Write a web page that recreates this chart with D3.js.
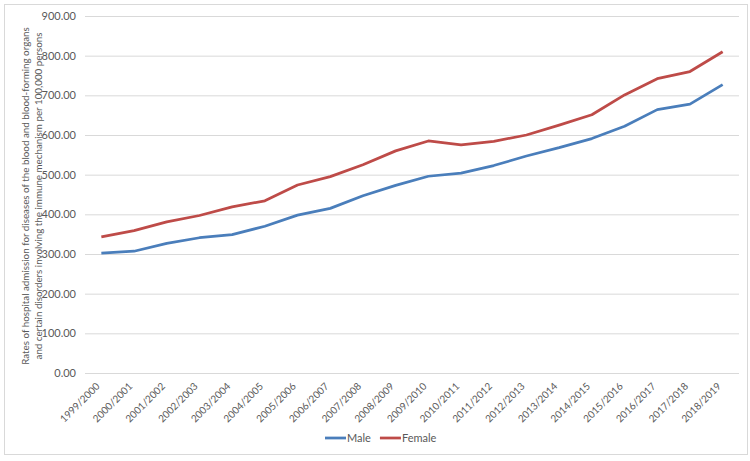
<!DOCTYPE html>
<html>
<head>
<meta charset="utf-8">
<script src="https://cdn.jsdelivr.net/npm/d3@7"></script>
<style>
  body { margin: 0; background: #fff; }
  svg text { font-family: Lato, "Open Sans", sans-serif; fill: #595959; }
</style>
</head>
<body>
<div id="chart"></div>
<script>
var years = ['1999/2000', '2000/2001', '2001/2002', '2002/2003', '2003/2004', '2004/2005',
  '2005/2006', '2006/2007', '2007/2008', '2008/2009', '2009/2010', '2010/2011', '2011/2012',
  '2012/2013', '2013/2014', '2014/2015', '2015/2016', '2016/2017', '2017/2018', '2018/2019'];
var male = [302, 307, 327, 341, 349, 370, 398, 415, 447, 473, 496, 504, 523, 547, 568, 591, 622, 664, 678, 727];
var female = [343, 359, 381, 397, 419, 434, 474, 495, 525, 560, 585, 575, 584, 600, 625, 651, 701, 742, 760, 810];
var yTicks = [0, 100, 200, 300, 400, 500, 600, 700, 800, 900];
var seriesNames = ['Male', 'Female'];
var seriesColors = ['#4a7ebb', '#be4b48'];
var titleLines = [
  'Rates of hospital admission for diseases of the blood and blood-forming organs',
  'and certain disorders involving the immune mechanism  per 100,000 persons'
];

var width = 750, height = 461;
var margin = { top: 16, right: 11, bottom: 88, left: 85 };

var svg = d3.select('#chart').append('svg')
  .attr('width', width)
  .attr('height', height);

// chart frame
svg.append('rect')
  .attr('x', 4.5).attr('y', 4.5)
  .attr('width', 743).attr('height', 450)
  .attr('fill', '#fff')
  .attr('stroke', '#d9d9d9');

var x = d3.scaleBand()
  .domain(years)
  .range([margin.left, width - margin.right]);

var y = d3.scaleLinear()
  .domain([0, 900])
  .range([height - margin.bottom, margin.top]);

// gridlines + y labels
var yAxis = svg.append('g')
  .attr('transform', `translate(${margin.left},0)`)
  .call(d3.axisLeft(y).tickValues(yTicks).tickFormat(d3.format('.2f'))
    .tickSize(-(width - margin.left - margin.right)).tickPadding(9));
yAxis.select('.domain').remove();
yAxis.selectAll('.tick line').attr('stroke', '#d9d9d9');
yAxis.selectAll('.tick text').style('font-size', '11px');

// x labels
var xAxis = svg.append('g')
  .attr('transform', `translate(0,${height - margin.bottom})`)
  .call(d3.axisBottom(x).tickSize(0).tickPadding(0));
xAxis.select('.domain').remove();
xAxis.selectAll('.tick text')
  .style('font-size', '10px')
  .attr('text-anchor', 'end')
  .attr('y', 0)
  .attr('dy', 0)
  .attr('transform', 'translate(-1,14) rotate(-45)');

// y axis title, font sized so the first line spans the same height as the original
var title = svg.append('text')
  .attr('transform', `translate(29,196) rotate(-90)`)
  .attr('text-anchor', 'middle')
  .style('font-size', '10px');
titleLines.forEach(function(s, i) {
  title.append('tspan').attr('x', 0).attr('y', i * 13).text(s);
});
var natural = title.select('tspan').node().getComputedTextLength();
title.style('font-size', (10 * 338 / natural).toFixed(2) + 'px');

var line = d3.line()
  .x(function(d, i) { return x(years[i]) + x.bandwidth() / 2; })
  .y(function(d) { return y(d); });

[male, female].forEach(function(values, i) {
  svg.append('path')
    .datum(values)
    .attr('fill', 'none')
    .attr('stroke', seriesColors[i])
    .attr('stroke-width', 2.75)
    .attr('stroke-linejoin', 'round')
    .attr('d', line);
});

// legend
var legend = svg.append('g').attr('transform', 'translate(325,438)');
var lx = 0;
seriesNames.forEach(function(name, i) {
  legend.append('line')
    .attr('x1', lx).attr('x2', lx + 21)
    .attr('stroke', seriesColors[i])
    .attr('stroke-width', 2.75);
  var t = legend.append('text')
    .attr('x', lx + 22).attr('y', 4)
    .style('font-size', '11px')
    .text(name);
  lx += 22 + t.node().getComputedTextLength() + 9;
});
</script>
</body>
</html>
